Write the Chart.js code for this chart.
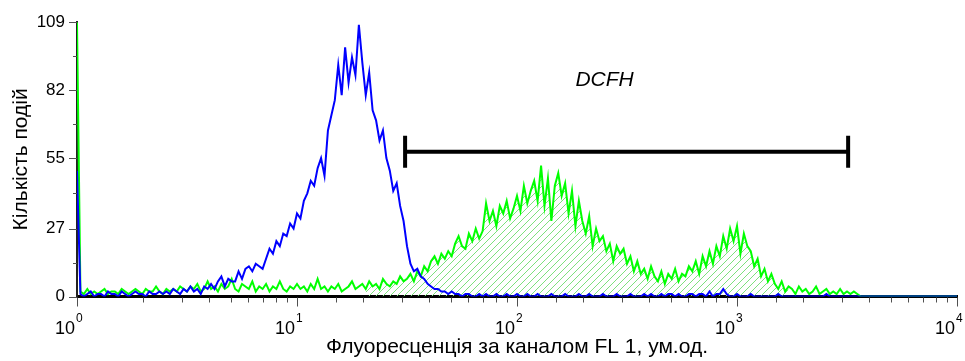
<!DOCTYPE html>
<html>
<head>
<meta charset="utf-8">
<script src="https://cdn.jsdelivr.net/npm/chart.js@4.4.0/dist/chart.umd.min.js"></script>
<style>
  html, body { margin: 0; padding: 0; background: #fff; }
</style>
</head>
<body>
<canvas id="histChart" width="965" height="361"></canvas>
<script>
// Гістограми FL1: 256 каналів, 64 канали на декаду (10^0 ... 10^4)
const channelsPerDecade = 64;

// Контроль (синя крива), кількість подій по каналах 0..256
const blueCounts = [
  50,
  1,0,1,2,0,1,1,0,2,1,1,0,2,1,0,1,2,1,1,0,2,1,1,2,1,
  2,1,3,2,1,3,2,4,2,3,1,4,3,
  5,3,6,8,4,7,6,
  6,10,7,
  11,12,10,13,12,11,
  15,19,17,22,20,25,
  24,29,27,33,31,38,
  41,46,44,51,55,
  48,
  66,72,78,
  92,80,99,85,95,
  88,108,
  93,80,89,74,
  70,62,66,55,
  50,42,45,36,
  30,20,
  13,10,11,8,7,5,
  4,3,3,2,2,1,2,1,
  1,0,1,1,0,0,1,0,1,0,
  0,1,0,0,1,0,0,1,0,0,
  1,0,0,1,0,0,0,1,0,0,
  0,1,0,0,0,1,0,0,1,0,
  0,0,1,0,0,0,1,0,0,0,
  1,0,0,0,1,0,1,0,0,1,
  0,1,1,0,1,0,0,1,1,0,
  1,1,0,2,0,1,1,3,1,0,
  0,1,0,0,0,1,0,0,0,0,
  0,0,0,1,0,0,0,0,0,0,
  0,0,0,0,0,0,0,1,0,0,
  0,0,0,0,0,0,0,0,0,0,
  0,0,0,0,0,0,0,0,0,0,
  0,0,0,0,0,0,0,0,0,0,
  0,0,0,0,0,0
];

// DCFH (зелена крива)
const greenCounts = [
  109,
  2,1,3,1,2,1,2,3,1,2,2,1,3,2,1,2,3,2,1,3,2,2,4,2,1,3,2,3,2,4,
  3,2,4,3,5,2,3,6,3,4,2,5,3,4,7,3,2,5,4,3,6,2,4,3,5,2,4,3,6,3,2,4,3,5,
  3,4,2,5,3,7,3,4,2,4,3,5,2,3,4,6,3,4,5,3,6,4,5,3,7,5,4,6,5,8,6,
  7,9,6,10,8,
  12,10,14,16,13,17,15,
  18,16,21,24,20,19,25,22,27,23,
  26,37,30,34,28,36,33,38,31,35,
  40,34,44,37,42,46,38,
  52,36,47,30,44,49,
  40,45,33,42,28,38,
  30,25,32,20,27,22,
  24,18,21,14,20,17,
  19,13,16,10,14,9,
  11,7,12,8,6,10,5,9,7,11,6,9,8,12,
  10,14,9,16,12,18,13,
  20,16,24,19,27,22,28,17,25,20,
  18,12,15,8,11,6,9,
  5,3,6,2,4,3,1,4,
  2,3,1,2,4,1,2,3,1,2,1,3,1,2,1,2,1,
  0,0,0,0,0,0,0,0,0,0,0,0,0,0,0,0,0,0,0,0,0,0,0,0,0,0,0,0,0
];

// Заштрихована ділянка під зеленою кривою (канали)
const hatchFrom = 84;
const hatchTo = 207;

// Маркер DCFH
const gateX = [31, 3200];
const gateLevel = 57.5;
const gateLabel = 'DCFH';
const gateLabelX = 250;
const gateLabelY = 86;

// Осі
const yTicks = [0, 27, 55, 82, 109];
const yMinorTicks = [13.5, 41, 68.5, 95.5];
const xTickExponents = [0, 1, 2, 3, 4];

const FONT = "'Liberation Sans', Arial, sans-serif";

const ctx = document.getElementById('histChart').getContext('2d');

function toPoints(values, from = 0, to = values.length - 1) {
  const pts = [];
  for (let ch = from; ch <= to; ch++) {
    pts.push({ x: Math.pow(10, ch / channelsPerDecade), y: values[ch] });
  }
  return pts;
}

// штрихування "////"
function makeHatch() {
  const size = 7;
  const c = document.createElement('canvas');
  c.width = size; c.height = size;
  const g = c.getContext('2d');
  g.strokeStyle = '#7ee07e';
  g.lineWidth = 1;
  g.beginPath();
  g.moveTo(0, size); g.lineTo(size, 0);
  g.moveTo(-1, 1); g.lineTo(1, -1);
  g.moveTo(size - 1, size + 1); g.lineTo(size + 1, size - 1);
  g.stroke();
  return ctx.createPattern(c, 'repeat');
}

// Ручне малювання поділок, підписів 10^n і мітки DCFH
const axisDecor = {
  id: 'axisDecor',
  afterDraw(chart) {
    const c = chart.ctx;
    const xs = chart.scales.x;
    const ys = chart.scales.y;
    const area = chart.chartArea;
    c.save();
    c.strokeStyle = '#505050';
    c.lineWidth = 1;
    c.beginPath();
    xs.ticks.forEach(t => {
      const lg = Math.log10(t.value);
      const major = Math.abs(lg - Math.round(lg)) < 1e-9;
      const px = Math.round(xs.getPixelForValue(t.value)) + 0.5;
      c.moveTo(px, area.bottom + 1);
      c.lineTo(px, area.bottom + (major ? 10 : 6));
    });
    yTicks.forEach(v => {
      const py = Math.round(ys.getPixelForValue(v)) + 0.5;
      c.moveTo(area.left - 8, py);
      c.lineTo(area.left, py);
    });
    yMinorTicks.forEach(v => {
      const py = Math.round(ys.getPixelForValue(v)) + 0.5;
      c.moveTo(area.left - 4, py);
      c.lineTo(area.left, py);
    });
    c.stroke();

    // 10^n
    c.fillStyle = '#000';
    c.textBaseline = 'alphabetic';
    xTickExponents.forEach(e => {
      const px = xs.getPixelForValue(Math.pow(10, e));
      c.font = '18px ' + FONT;
      c.textAlign = 'right';
      c.fillText('10', px - 2, 334);
      c.font = '12px ' + FONT;
      c.textAlign = 'left';
      c.fillText(String(e), px - 1, 322);
    });

    // DCFH
    c.font = 'italic 21px ' + FONT;
    c.textAlign = 'center';
    c.textBaseline = 'middle';
    c.fillText(gateLabel, xs.getPixelForValue(gateLabelX), ys.getPixelForValue(gateLabelY));
    c.restore();
  }
};

new Chart(ctx, {
  type: 'line',
  data: {
    datasets: [
      {
        label: 'Контроль',
        data: toPoints(blueCounts),
        borderColor: '#0000ff',
        borderWidth: 2,
        pointRadius: 0,
        fill: false,
        order: 1
      },
      {
        label: 'DCFH',
        data: toPoints(greenCounts),
        borderColor: '#00ff00',
        borderWidth: 2,
        pointRadius: 0,
        fill: false,
        order: 2
      },
      {
        label: 'штрих',
        data: toPoints(greenCounts, hatchFrom, hatchTo),
        borderWidth: 0,
        pointRadius: 0,
        backgroundColor: makeHatch(),
        fill: 'origin',
        order: 3
      },
      {
        label: 'маркер',
        data: gateX.map(x => ({ x: x, y: gateLevel })),
        borderColor: '#000',
        borderWidth: 4,
        pointStyle: 'line',
        pointRotation: 90,
        pointRadius: 16,
        pointBorderWidth: 4,
        pointBorderColor: '#000',
        fill: false,
        order: 0
      }
    ]
  },
  options: {
    responsive: false,
    animation: false,
    layout: { autoPadding: false, padding: { left: 5, right: 8, top: 21, bottom: 0 } },
    plugins: {
      legend: { display: false },
      tooltip: { enabled: false }
    },
    scales: {
      x: {
        type: 'logarithmic',
        min: 1,
        max: 10000,
        afterFit: s => { s.height = 64.5; },
        grid: { display: true, drawOnChartArea: false, drawTicks: false },
        border: { display: true, color: '#000', width: 3 },
        ticks: { display: false },
        title: {
          display: true,
          text: 'Флуоресценція за каналом FL 1, ум.од.',
          color: '#000',
          font: { family: FONT, size: 21 },
          padding: { top: 36, bottom: 1.5 }
        }
      },
      y: {
        min: 0,
        max: 109,
        afterFit: s => { s.width = 72; },
        afterBuildTicks: scale => { scale.ticks = yTicks.map(v => ({ value: v })); },
        grid: { display: true, drawOnChartArea: false, drawTicks: false },
        border: { display: true, color: '#222', width: 2 },
        ticks: { color: '#000', font: { family: FONT, size: 17 }, padding: 12 },
        title: {
          display: true,
          text: 'Кількість подій',
          color: '#000',
          font: { family: FONT, size: 21 },
          padding: { top: 4, bottom: 4 }
        }
      }
    }
  },
  plugins: [axisDecor]
});
</script>
</body>
</html>
